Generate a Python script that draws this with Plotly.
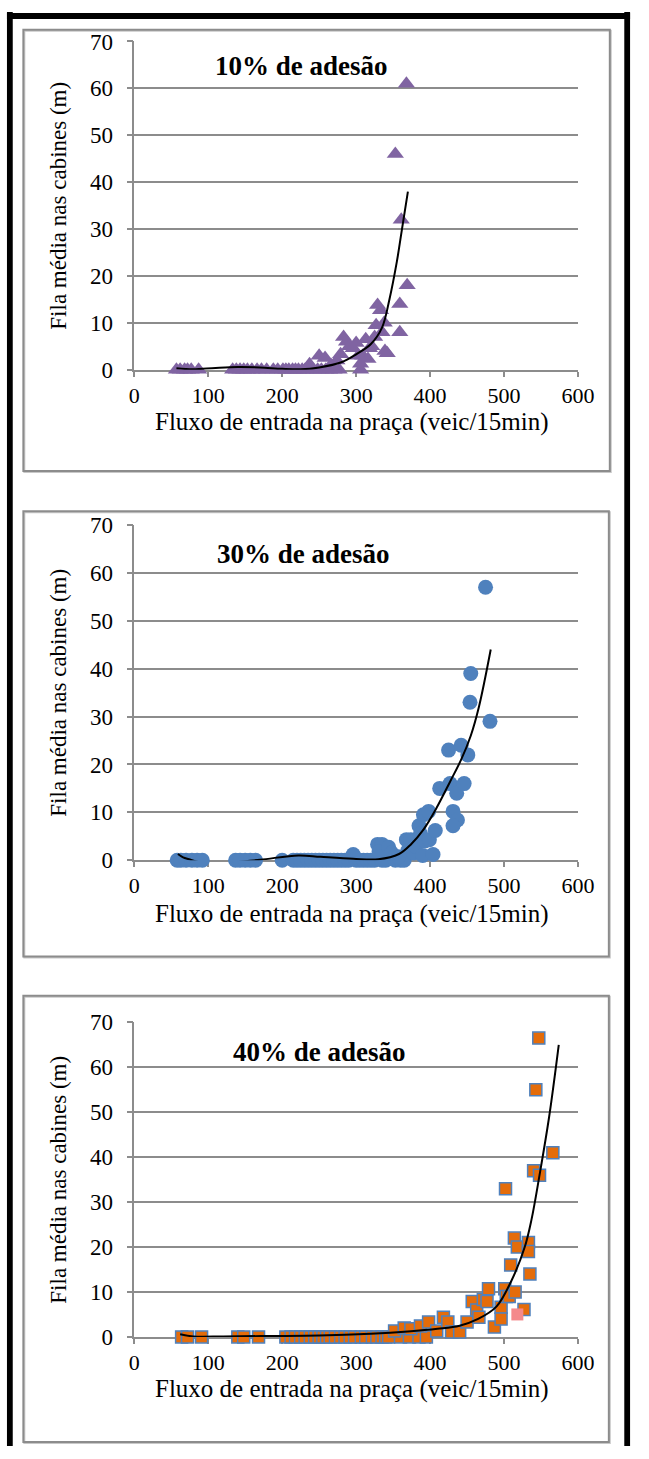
import plotly.graph_objects as go

W, H = 649, 1459

# ---------------- data ----------------
# Panel 1: 10% de adesão (purple triangles)
x10 = [57, 62, 68, 72, 77, 87, 133, 138, 143, 148, 153, 159, 166, 172, 179, 188, 194, 201,
       205, 209, 214, 218, 222, 227, 231, 236, 242, 248, 253, 259, 264, 270, 277, 306,
       237, 250, 258, 266, 274, 279, 283, 287, 291, 296, 300, 303, 306, 309, 313, 316,
       318, 321, 325, 327, 329, 333, 335, 338, 339, 342, 353, 359, 359, 361, 368, 369]
y10 = [0, 0, 0, 0, 0, 0, 0, 0, 0, 0, 0, 0, 0, 0, 0, 0, 0, 0,
       0, 0, 0, 0, 0, 0, 0, 0, 0, 0, 0, 0, 0, 0, 0, 0,
       1.2, 3, 2.5, 1, 2, 3.3, 7, 6, 5, 4.6, 5.7, 3, 1.3, 3, 6.5, 2.3,
       4.6, 5, 7, 9.5, 13.8, 12.7, 8, 10, 4, 3.5, 46, 14, 8, 32, 61, 18]
trend10_x = [57, 80, 110, 140, 170, 200, 225, 250, 280, 300, 320, 335, 345, 355, 362, 370]
trend10_y = [0.3, 0.1, 0.4, 0.6, 0.5, 0.2, 0.1, 0.5, 1.6, 3.3, 5.5, 9, 15, 23, 30, 38]

# Panel 2: 30% de adesão (blue circles)
x30 = [58, 63, 70, 78, 85, 92, 137, 143, 150, 157, 164, 200, 215, 220, 225, 230, 235, 240,
       245, 250, 255, 260, 265, 270, 275, 280, 285, 290, 300, 305, 310, 315, 320, 325, 335,
       340, 353, 360, 365,
       296, 329, 335, 331, 344, 348, 357, 368, 374, 370, 378, 380, 385, 387, 391, 398, 393,
       390, 399, 407, 404, 413, 427, 431, 436, 437, 431, 446, 425, 442, 451, 454, 455, 475, 481]
y30 = [0] * 39 + [1.2, 3.3, 3.3, 1.8, 2.7, 1.5, 0.7, 4.3, 4.3, 2, 1.5, 3, 7.2, 5.5, 9.5, 10.2, 4,
                  1, 4.3, 6.2, 1.2, 15, 16, 10.2, 14, 8.4, 7.2, 16, 23, 24, 22, 33, 39, 57, 29]
trend30_x = [59, 66, 74, 85, 120, 170, 222, 252, 296, 330, 358, 374, 391, 409, 427, 442, 455, 466, 482]
trend30_y = [1.3, 0.6, 0.2, -0.3, -0.6, 0.1, 1, 0.7, 0.3, 0.2, 1.3, 3.3, 6.4, 11, 16.4, 21, 26, 32, 44]

# Panel 3: 40% de adesão (orange squares)
x40 = [64, 72, 91, 140, 148, 168, 205, 212, 218, 225, 231, 238, 244, 250, 255, 260, 265, 272,
       279, 285, 292, 298, 307, 313, 322, 328, 335, 340, 344, 360, 372, 385, 395,
       352, 365, 374, 387, 398, 409, 418, 424, 429, 440, 450, 457, 463, 466, 472, 479, 477,
       487, 496, 496, 501, 503, 507, 515, 527, 509, 514, 518, 533, 533, 535, 547, 543, 566,
       540, 548, 502]
y40 = [0] * 33 + [1.3, 2, 1.8, 2.4, 3.3, 1.3, 4.4, 3.3, 1.1, 1.1, 3.3, 7.9, 6, 4.4, 8.3, 10.7,
                  7.9, 2.2, 6.6, 4, 10.7, 9, 9, 10, 6.1, 16, 22, 20, 21, 19, 14, 66.5, 55, 41,
                  37, 36, 33]
x40_pink = [518]
y40_pink = [5]
trend40_x = [62, 80, 120, 180, 250, 320, 370, 410, 440, 465, 490, 510, 528, 537, 548, 561, 574]
trend40_y = [0.6, 0.1, 0.1, 0.2, 0.3, 0.7, 1.2, 1.8, 2.5, 4, 6.8, 12.5, 20, 26, 36, 49, 65]

titles = ["10% de adesão", "30% de adesão", "40% de adesão"]
x_title = "Fluxo de entrada na praça (veic/15min)"
y_title = "Fila média nas cabines (m)"
x_ticks = [0, 100, 200, 300, 400, 500, 600]
y_ticks = [0, 10, 20, 30, 40, 50, 60, 70]

# ---------------- layout geometry (pixels) ----------------
plots = [(30, 364), (522, 863), (1028, 1348)]
boxes = [(18, 18, 626, 467), (18, 508, 625, 961), (18, 1001, 625, 1455)]
title_pos = [(306, 55), (308, 551), (325, 1058)]
xtitle_y = [417, 918, 1401]
X0, X1 = 133, 593

FONT = "Liberation Serif, Times New Roman, Tinos, serif"
GRID = "#8c8c8c"


def px(x):
    return x / W


def py(y):
    return 1 - y / H


fig = go.Figure()

series = [
    (x10, y10, trend10_x, trend10_y, dict(symbol="triangle-up", size=15, color="#8064A2")),
    (x30, y30, trend30_x, trend30_y, dict(symbol="circle", size=15, color="#4F81BD")),
    (x40, y40, trend40_x, trend40_y,
     dict(symbol="square", size=12, color="#E46C0A", line=dict(color="#4F81BD", width=1.5))),
]

for i, (xs, ys, tx, ty, mk) in enumerate(series):
    ax = "" if i == 0 else str(i + 1)
    fig.add_trace(go.Scatter(x=xs, y=ys, mode="markers", marker=mk, cliponaxis=False,
                             xaxis="x" + ax, yaxis="y" + ax, showlegend=False))
    if i == 2:
        fig.add_trace(go.Scatter(x=x40_pink, y=y40_pink, mode="markers",
                                 marker=dict(symbol="square", size=12, color="#F4898B"),
                                 cliponaxis=False, xaxis="x3", yaxis="y3", showlegend=False))
    fig.add_trace(go.Scatter(x=tx, y=ty, mode="lines",
                             line=dict(color="black", width=2, shape="spline", smoothing=1.0),
                             xaxis="x" + ax, yaxis="y" + ax, showlegend=False))

layout = dict(
    width=W, height=H, margin=dict(l=0, r=0, t=0, b=0),
    paper_bgcolor="white", plot_bgcolor="white", showlegend=False,
    font=dict(family=FONT, color="black"),
)
annotations = []
shapes = []

for i, (top, bottom) in enumerate(plots):
    k = "" if i == 0 else str(i + 1)
    layout["xaxis" + k] = dict(
        domain=[px(X0), px(X1)], anchor="y" + k, range=[0, 600],
        tickvals=x_ticks, ticktext=[str(v) for v in x_ticks],
        ticks="outside", ticklen=5, tickwidth=1.5, tickcolor=GRID,
        showline=True, linecolor=GRID, linewidth=1.5, showgrid=False, zeroline=False,
        tickfont=dict(family=FONT, size=22, color="black"), layer="below traces",
        fixedrange=True,
    )
    layout["yaxis" + k] = dict(
        domain=[py(bottom), py(top)], anchor="x" + k, range=[0, 70],
        tickvals=y_ticks, ticktext=[str(v) for v in y_ticks],
        ticks="outside", ticklen=6, tickwidth=1.5, tickcolor=GRID,
        showline=True, linecolor=GRID, linewidth=1.5,
        showgrid=True, gridcolor=GRID, gridwidth=1.5, zeroline=False,
        tickfont=dict(family=FONT, size=23, color="black"), ticklabelstandoff=9,
        layer="below traces", fixedrange=True,
    )
    tx_, ty_ = title_pos[i]
    annotations.append(dict(text="<b>" + titles[i] + "</b>", x=px(tx_), y=py(ty_),
                            xref="paper", yref="paper", showarrow=False,
                            xanchor="center", yanchor="middle",
                            font=dict(family=FONT, size=27, color="black")))
    annotations.append(dict(text=x_title, x=px(359), y=py(xtitle_y[i]),
                            xref="paper", yref="paper", showarrow=False,
                            xanchor="center", yanchor="middle",
                            font=dict(family=FONT, size=25, color="black")))
    annotations.append(dict(text=y_title, x=px(55), y=py((top + bottom) / 2),
                            xref="paper", yref="paper", showarrow=False, textangle=-90,
                            xanchor="center", yanchor="middle",
                            font=dict(family=FONT, size=23, color="black")))
    bx0, by0, bx1, by1 = boxes[i]
    # soft shadow + gray box
    shapes.append(dict(type="rect", xref="paper", yref="paper",
                       x0=px(bx0 + 1), x1=px(bx1 + 1), y0=py(by1 + 1), y1=py(by0 + 1),
                       line=dict(color="#c8c8c8", width=2), layer="below"))
    shapes.append(dict(type="rect", xref="paper", yref="paper",
                       x0=px(bx0), x1=px(bx1), y0=py(by1), y1=py(by0),
                       line=dict(color="#8c8c8c", width=2), layer="below"))

# outer black frame (left, right, top)
for (a, b, c, d) in [(1, 0, 7, H), (641, 0, 647, H), (1, 1, 647, 7)]:
    shapes.append(dict(type="rect", xref="paper", yref="paper",
                       x0=px(a), x1=px(c), y0=py(d), y1=py(b),
                       fillcolor="black", line=dict(width=0), layer="above"))

layout["annotations"] = annotations
layout["shapes"] = shapes
fig.update_layout(**layout)
fig.write_html("out.html")
